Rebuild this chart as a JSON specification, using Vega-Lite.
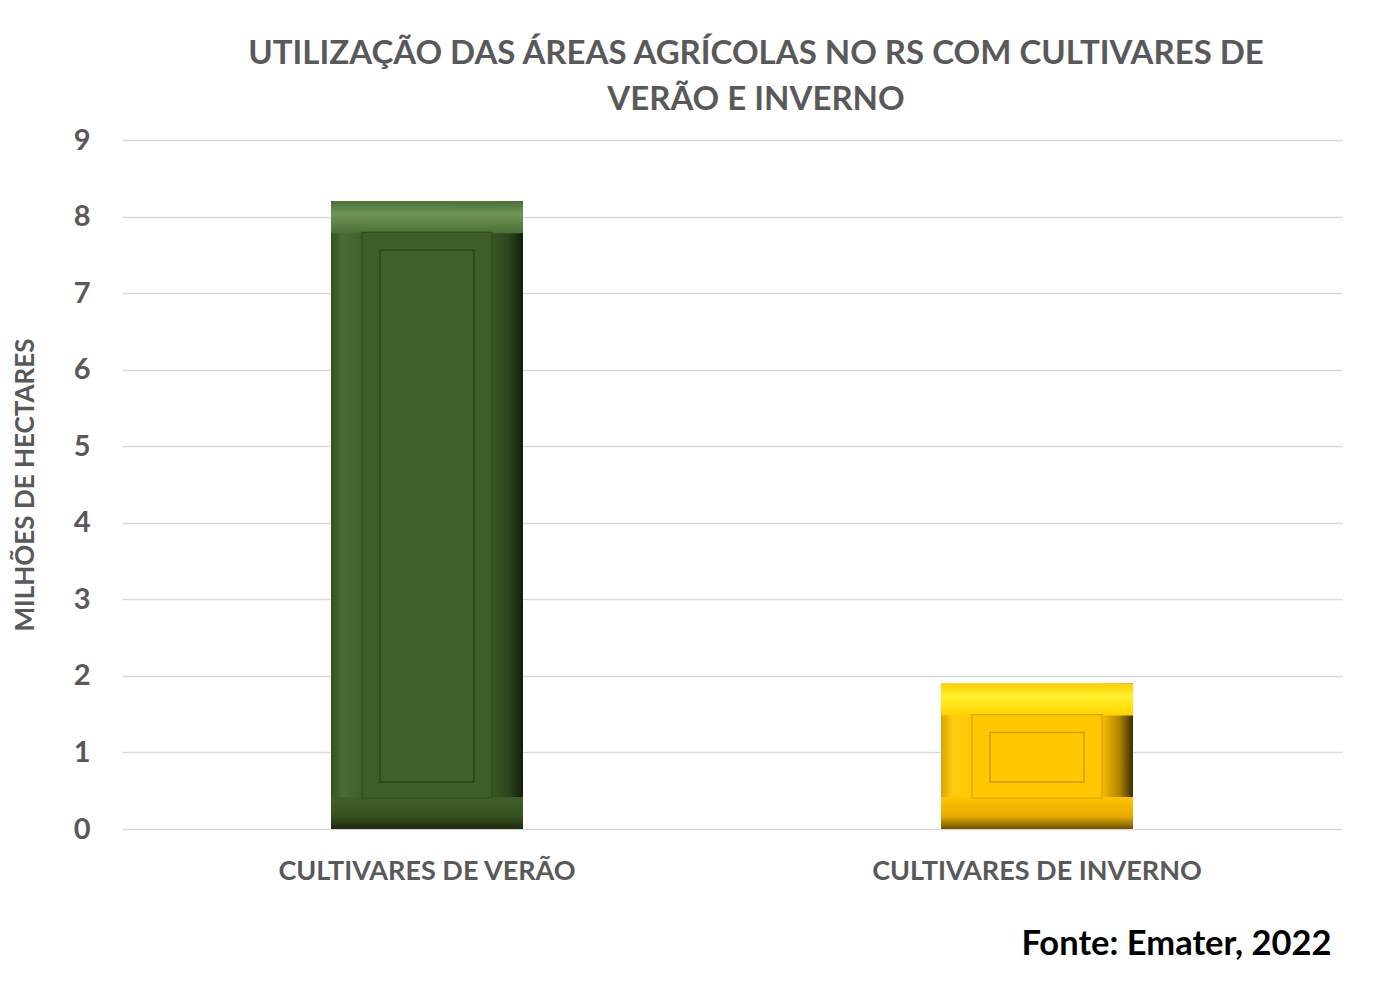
{
  "$schema": "https://vega.github.io/schema/vega-lite/v6.json",
  "autosize": {"type": "none"},
  "width": 1220,
  "height": 689,
  "padding": {"left": 122, "top": 140, "right": 31, "bottom": 159},
  "background": "white",
  "config": {
    "view": {"stroke": null},
    "font": "Lato"
  },
  "title": {
    "text": ["UTILIZAÇÃO DAS ÁREAS AGRÍCOLAS NO RS COM CULTIVARES DE", "VERÃO E INVERNO"],
    "font": "Lato",
    "fontSize": 33,
    "fontWeight": "bold",
    "color": "#595959",
    "anchor": "middle",
    "dx": 24,
    "lineHeight": 46,
    "offset": 9
  },
  "data": {
    "values": [
      {"cultivar": "CULTIVARES DE VERÃO", "area": 8.2},
      {"cultivar": "CULTIVARES DE INVERNO", "area": 1.9}
    ]
  },
  "encoding": {
    "x": {
      "field": "cultivar",
      "type": "nominal",
      "sort": null,
      "scale": {"paddingInner": 0, "paddingOuter": 0},
      "axis": {
        "domain": false,
        "ticks": false,
        "labelAngle": 0,
        "labelLimit": 1000,
        "labelFont": "Lato",
        "labelFontSize": 27,
        "labelFontWeight": "bold",
        "labelColor": "#595959",
        "labelPadding": 29,
        "title": "Fonte: Emater, 2022",
        "titleFont": "Lato",
        "titleFontSize": 34.5,
        "titleFontWeight": "bold",
        "titleColor": "#000000",
        "titleAlign": "right",
        "titleAnchor": "end",
        "titleX": 1209,
        "titleY": 125,
        "titleBaseline": "alphabetic"
      }
    },
    "y": {
      "field": "area",
      "type": "quantitative",
      "stack": null,
      "scale": {"domain": [0, 9], "nice": false},
      "axis": {
        "values": [0, 1, 2, 3, 4, 5, 6, 7, 8, 9],
        "domain": false,
        "ticks": false,
        "grid": true,
        "gridColor": "#D9D9D9",
        "gridWidth": 1.6,
        "labelFont": "Lato",
        "labelFontSize": 29,
        "labelFontWeight": "bold",
        "labelColor": "#595959",
        "labelPadding": 32,
        "title": "MILHÕES DE HECTARES",
        "titleFont": "Lato",
        "titleFontSize": 26,
        "titleFontWeight": "bold",
        "titleColor": "#595959",
        "titlePadding": 35
      }
    }
  },
  "layer": [
    {
      "mark": {"type": "bar", "size": 192},
      "encoding": {
        "fill": {
          "condition": {
            "test": "datum.cultivar === 'CULTIVARES DE VERÃO'",
            "value": {"gradient": "linear", "x1": 0, "y1": 0, "x2": 1, "y2": 0,
              "stops": [
                {"offset": 0, "color": "#35531f"},
                {"offset": 0.06, "color": "#486d31"},
                {"offset": 0.17, "color": "#3f5f2a"},
                {"offset": 0.83, "color": "#3b5a27"},
                {"offset": 0.93, "color": "#2a431c"},
                {"offset": 1, "color": "#121d0c"}
              ]}
          },
          "value": {"gradient": "linear", "x1": 0, "y1": 0, "x2": 1, "y2": 0,
            "stops": [
              {"offset": 0, "color": "#d9a400"},
              {"offset": 0.06, "color": "#ffcc12"},
              {"offset": 0.17, "color": "#ffc800"},
              {"offset": 0.83, "color": "#ffc300"},
              {"offset": 0.93, "color": "#b08400"},
              {"offset": 1, "color": "#3a2b00"}
            ]}
        }
      }
    },
    {
      "mark": {"type": "bar", "size": 192, "y2Offset": 32},
      "encoding": {
        "y2": {"field": "area"},
        "fill": {
          "condition": {
            "test": "datum.cultivar === 'CULTIVARES DE VERÃO'",
            "value": {"gradient": "linear", "x1": 0, "y1": 0, "x2": 0, "y2": 1,
              "stops": [
                {"offset": 0, "color": "#4a7134"},
                {"offset": 0.4, "color": "#6f9657"},
                {"offset": 1, "color": "#4b6f35"}
              ]}
          },
          "value": {"gradient": "linear", "x1": 0, "y1": 0, "x2": 0, "y2": 1,
            "stops": [
              {"offset": 0, "color": "#ffcc00"},
              {"offset": 0.4, "color": "#fff22c"},
              {"offset": 1, "color": "#ffd200"}
            ]}
        }
      }
    },
    {
      "mark": {"type": "bar", "size": 192, "yOffset": -32},
      "encoding": {
        "y": {"datum": 0},
        "y2": {"datum": 0},
        "fill": {
          "condition": {
            "test": "datum.cultivar === 'CULTIVARES DE VERÃO'",
            "value": {"gradient": "linear", "x1": 0, "y1": 0, "x2": 0, "y2": 1,
              "stops": [
                {"offset": 0, "color": "#3f5f2a"},
                {"offset": 0.6, "color": "#36531f"},
                {"offset": 1, "color": "#1c2c11"}
              ]}
          },
          "value": {"gradient": "linear", "x1": 0, "y1": 0, "x2": 0, "y2": 1,
            "stops": [
              {"offset": 0, "color": "#ffc400"},
              {"offset": 0.6, "color": "#e6ad00"},
              {"offset": 1, "color": "#6d5400"}
            ]}
        }
      }
    },
    {
      "mark": {"type": "bar", "size": 130, "yOffset": 31, "y2Offset": -31, "strokeWidth": 1.2},
      "encoding": {
        "y2": {"datum": 0},
        "fill": {
          "condition": {"test": "datum.cultivar === 'CULTIVARES DE VERÃO'", "value": "#3e5e29"},
          "value": "#ffc800"
        },
        "stroke": {
          "condition": {"test": "datum.cultivar === 'CULTIVARES DE VERÃO'", "value": "#2d4a1d"},
          "value": "#d9a000"
        }
      }
    },
    {
      "mark": {"type": "bar", "size": 94, "yOffset": 49, "y2Offset": -47, "strokeWidth": 1.5},
      "encoding": {
        "y2": {"datum": 0},
        "fill": {
          "condition": {"test": "datum.cultivar === 'CULTIVARES DE VERÃO'", "value": "#3f602a"},
          "value": "#ffc800"
        },
        "stroke": {
          "condition": {"test": "datum.cultivar === 'CULTIVARES DE VERÃO'", "value": "#2b461c"},
          "value": "#d49c00"
        }
      }
    }
  ]
}
